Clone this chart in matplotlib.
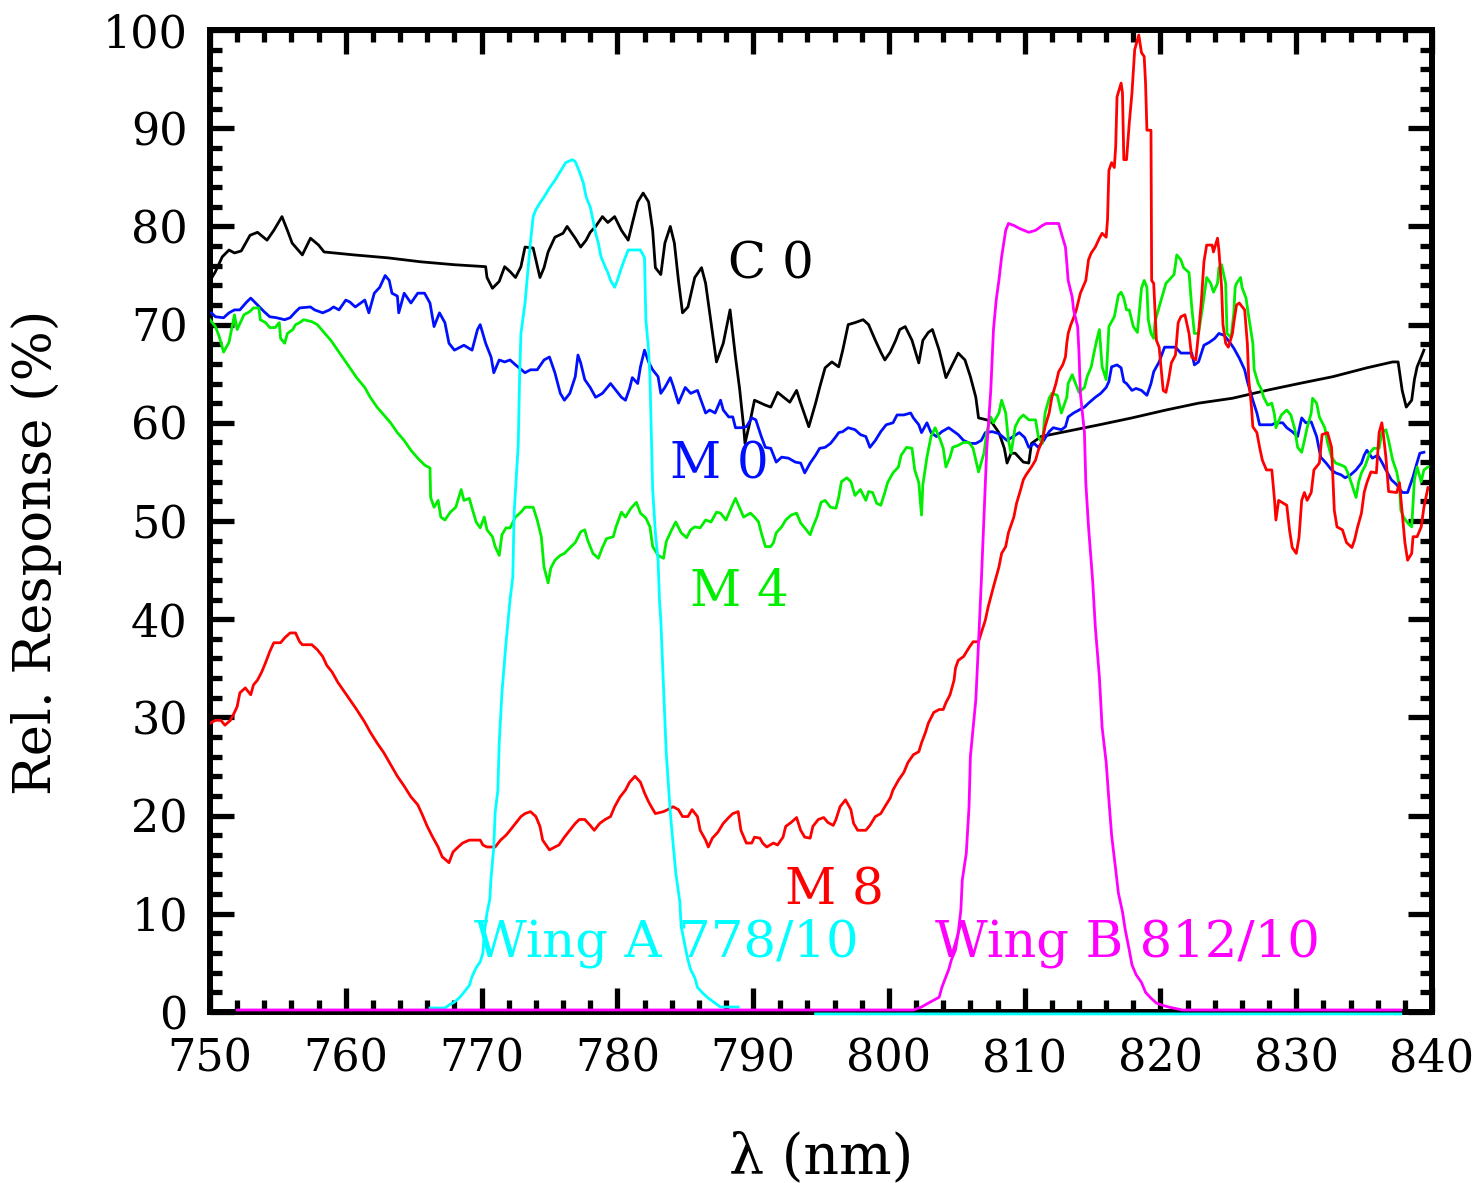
import matplotlib.pyplot as plt
import numpy as np
from matplotlib.ticker import MultipleLocator

# ---- data (wavelength nm, relative response %) ----
wl_c0 = [750.1, 750.4, 750.9, 751.4, 751.8, 752.3, 752.95, 753.5, 754.2, 754.7, 755.3, 755.7,
         756.05, 756.8, 757.4, 758.0, 758.4, 760.6, 763.1, 765.5, 768.0, 770.3, 770.4, 770.8,
         771.3, 771.7, 772.1, 772.5, 772.9, 773.2, 773.8, 774.0, 774.3, 774.6, 774.9, 775.4,
         776.0, 776.3, 776.9, 777.3, 777.7, 778.0, 778.4, 778.9, 779.3, 779.8, 780.3, 780.8,
         781.1, 781.5, 781.9, 782.3, 782.6, 782.8, 783.2, 783.5, 783.9, 784.2, 784.5, 784.8,
         785.2, 785.7, 786.2, 786.5, 786.8, 787.3, 787.8, 788.3, 788.7, 789.0, 789.3, 789.4,
         789.8, 790.1, 790.9, 791.3, 791.8, 792.7, 793.2, 793.5, 794.1, 794.6, 794.9, 795.3,
         795.8, 796.3, 796.6, 797.0, 797.5, 798.1, 798.5, 799.0, 799.4, 799.7, 800.1, 800.5,
         800.8, 801.2, 801.7, 802.2, 802.5, 802.9, 803.2, 803.7, 804.2, 804.6, 805.1, 805.6,
         806.0, 806.4, 806.6, 807.2, 807.6, 808.1, 808.5, 808.7, 809.0, 809.3, 809.9, 810.3,
         810.5, 810.8, 811.2, 813.0, 815.5, 817.9, 820.4, 822.8, 825.3, 827.8, 830.2, 832.7,
         835.2, 837.1, 837.5, 837.8, 838.1, 838.5, 838.7, 838.9, 839.2, 839.4]
rr_c0 = [74.7, 75.4, 76.9, 77.6, 77.3, 77.5, 79.1, 79.4, 78.6, 79.6, 81.0, 79.6,
         78.3, 77.1, 78.8, 78.1, 77.4, 77.1, 76.8, 76.4, 76.1, 75.9, 74.8, 73.7,
         74.4, 75.9, 75.4, 74.8, 75.9, 77.9, 77.8, 76.6, 74.8, 75.8, 77.4, 78.9,
         79.3, 80.0, 78.8, 77.9, 78.6, 79.4, 80.0, 81.0, 80.4, 81.0, 79.6, 78.6,
         80.3, 82.5, 83.4, 82.5, 79.6, 75.8, 75.1, 78.3, 80.0, 78.3, 74.5, 71.2,
         71.8, 74.8, 75.8, 74.2, 71.2, 66.2, 68.1, 71.5, 66.7, 63.5, 59.6, 57.9,
         60.3, 62.3, 61.8, 61.6, 63.1, 62.1, 63.3, 62.0, 59.6, 62.0, 63.6, 65.6,
         66.2, 65.7, 67.4, 70.0, 70.2, 70.5, 70.0, 68.4, 67.2, 66.4, 67.2, 68.4,
         69.5, 69.8, 68.4, 66.1, 68.4, 69.2, 69.5, 67.4, 64.6, 65.7, 67.1, 66.4,
         64.7, 62.6, 60.5, 60.3, 60.0, 59.0, 57.4, 55.9, 56.9, 56.9, 56.0, 55.9,
         57.9, 58.2, 58.6, 59.1, 59.8, 60.5, 61.3, 62.0, 62.5, 63.3, 64.0, 64.7,
         65.6, 66.2, 66.2, 63.3, 61.6, 62.3, 64.4, 65.7, 66.7, 67.4]

wl_m0 = [750.1, 750.4, 751.0, 751.4, 751.8, 752.2, 752.7, 753.0, 753.5, 754.0, 754.4, 754.9,
         755.5, 755.9, 756.3, 756.6, 757.4, 757.7, 758.3, 758.8, 759.1, 759.5, 760.0, 760.3,
         760.7, 761.4, 761.7, 762.1, 762.5, 762.9, 763.2, 763.4, 763.8, 763.9, 764.3, 764.8,
         765.3, 765.8, 766.2, 766.5, 766.9, 767.3, 767.6, 768.0, 768.7, 769.3, 769.7, 769.9,
         770.3, 770.7, 770.9, 771.3, 771.7, 772.1, 772.5, 773.2, 773.6, 774.1, 774.6, 775.0,
         775.4, 775.8, 776.1, 776.5, 776.9, 777.1, 777.3, 777.6, 778.0, 778.4, 778.9, 779.5,
         780.3, 780.6, 780.9, 781.1, 781.5, 781.7, 782.0, 782.3, 782.6, 783.0, 783.2, 783.5,
         783.9, 784.1, 784.5, 785.0, 785.4, 785.9, 786.5, 786.8, 787.2, 787.6, 787.8, 788.2,
         788.5, 788.7, 789.1, 789.5, 789.9, 790.2, 790.6, 790.9, 791.3, 791.7, 792.1, 792.6,
         793.1, 793.5, 793.8, 794.2, 794.6, 794.9, 795.3, 795.7, 796.1, 796.3, 796.6, 797.0,
         797.5, 797.9, 798.3, 798.6, 799.0, 799.4, 799.8, 800.3, 800.6, 801.1, 801.6, 801.8,
         802.2, 802.4, 802.8, 803.1, 803.5, 803.9, 804.4, 804.8, 805.1, 805.5, 806.0, 806.4,
         806.8, 807.1, 807.6, 808.1, 808.7, 809.6, 810.0, 810.3, 810.7, 811.0, 811.4, 811.8,
         812.1, 812.7, 813.0, 813.2, 813.6, 814.0, 814.4, 814.7, 815.2, 815.6, 816.0, 816.2,
         816.4, 816.8, 817.1, 817.3, 817.5, 817.9, 818.2, 818.6, 819.0, 819.3, 819.5, 819.9,
         820.3, 820.6, 821.1, 821.5, 822.3, 822.5, 822.8, 823.2, 823.6, 824.0, 824.3, 824.7,
         825.1, 825.4, 825.8, 826.2, 826.4, 826.8, 827.1, 827.3, 827.8, 828.2, 828.5, 829.0,
         829.3, 829.7, 830.1, 830.4, 830.7, 831.1, 831.5, 831.8, 832.2, 832.6, 832.9, 833.3,
         833.6, 834.0, 834.4, 834.8, 835.0, 835.2, 835.6, 836.0, 836.3, 836.6, 837.0, 837.4,
         837.8, 838.2, 838.6, 838.8, 839.1, 839.4]
rr_m0 = [71.2, 70.8, 70.7, 71.2, 71.5, 71.5, 72.3, 72.7, 72.0, 71.3, 70.8, 70.7,
         70.5, 70.7, 71.3, 71.7, 71.8, 71.5, 71.2, 71.5, 71.8, 71.5, 72.5, 72.3,
         71.8, 72.5, 71.2, 73.2, 73.8, 75.0, 74.5, 73.2, 72.9, 71.2, 73.2, 72.2,
         73.2, 73.2, 72.2, 69.8, 71.2, 70.2, 68.1, 67.4, 67.9, 67.4, 69.5, 70.0,
         68.1, 66.7, 65.1, 66.4, 66.2, 66.4, 65.9, 65.1, 65.4, 65.4, 66.4, 66.7,
         65.1, 63.0, 62.3, 63.0, 64.7, 66.9, 66.1, 64.4, 63.6, 62.6, 63.0, 64.0,
         62.6, 62.3, 63.5, 64.6, 64.0, 65.7, 67.4, 66.2, 65.4, 64.7, 63.0, 63.6,
         64.6, 63.8, 62.0, 63.6, 63.0, 63.3, 61.0, 61.3, 61.0, 62.3, 61.3, 60.6,
         60.6, 59.5, 59.5, 59.6, 60.5, 60.3, 58.6, 57.5, 57.4, 56.0, 56.5, 56.4,
         56.0, 55.9, 54.9, 55.9, 56.7, 57.4, 57.5, 57.9, 58.6, 59.0, 59.1, 59.5,
         59.3, 58.8, 58.6, 57.5, 58.2, 59.1, 59.8, 60.0, 60.8, 60.8, 61.0, 60.5,
         59.8, 59.0, 60.0, 59.0, 58.6, 59.1, 59.5, 59.1, 58.8, 58.2, 57.9, 57.9,
         58.2, 59.0, 59.1, 58.9, 58.2, 59.0, 58.5, 57.5, 57.9, 57.5, 58.2, 59.1,
         59.5, 59.3, 59.6, 60.6, 61.0, 61.3, 61.6, 62.0, 62.6, 63.0, 63.6, 64.2,
         65.7, 65.9, 65.6, 64.2, 64.0, 63.3, 63.5, 63.3, 62.8, 64.0, 65.2, 66.2,
         67.7, 67.7, 67.7, 67.1, 67.1, 65.9, 66.2, 67.9, 68.2, 68.6, 69.1, 68.9,
         68.2, 67.6, 66.6, 65.4, 64.2, 62.3, 61.0, 59.8, 59.8, 59.8, 60.0, 60.0,
         59.5, 59.1, 58.6, 60.5, 60.0, 60.1, 58.6, 56.5, 55.9, 55.2, 54.9, 54.7,
         54.4, 54.7, 55.2, 55.9, 56.7, 57.2, 56.4, 56.7, 56.0, 55.2, 54.2, 53.7,
         52.9, 52.9, 54.5, 55.5, 56.9, 57.0]

wl_m4 = [750.0, 750.4, 750.7, 751.0, 751.4, 751.8, 752.0, 752.5, 752.9, 753.2, 753.6, 753.7,
         754.1, 754.4, 754.8, 755.1, 755.2, 755.5, 755.7, 756.1, 756.3, 756.6, 756.9, 757.5,
         757.9, 758.4, 758.9, 759.4, 759.9, 760.3, 760.8, 761.4, 761.8, 762.3, 762.8, 763.3,
         763.8, 764.3, 764.8, 765.3, 765.8, 766.2, 766.25, 766.5, 766.8, 767.0, 767.3, 767.7,
         768.1, 768.5, 768.7, 769.1, 769.3, 769.6, 769.9, 770.2, 770.4, 770.8, 771.0, 771.3,
         771.5, 771.8, 772.1, 772.5, 772.9, 773.2, 773.8, 774.1, 774.4, 774.6, 774.9, 775.1,
         775.4, 775.8, 776.1, 776.6, 776.9, 777.3, 777.6, 777.8, 778.2, 778.6, 778.9, 779.2,
         779.7, 779.9, 780.3, 780.6, 781.0, 781.4, 781.7, 782.1, 782.4, 782.6, 783.0, 783.4,
         783.6, 784.0, 784.3, 784.7, 785.1, 785.4, 785.7, 786.1, 786.5, 786.9, 787.3, 787.6,
         788.0, 788.4, 788.7, 789.3, 789.8, 790.1, 790.4, 790.6, 790.9, 791.3, 791.5, 791.7,
         792.1, 792.4, 792.8, 793.2, 793.5, 793.8, 794.2, 794.4, 794.7, 795.0, 795.3, 795.7,
         796.1, 796.3, 796.5, 796.9, 797.2, 797.5, 797.9, 798.3, 798.5, 798.8, 799.1, 799.4,
         799.7, 799.9, 800.3, 800.7, 800.9, 801.3, 801.7, 801.9, 802.2, 802.4, 802.5, 802.8,
         803.1, 803.4, 803.8, 804.0, 804.2, 804.5, 804.7, 805.1, 805.5, 805.9, 806.2, 806.6,
         807.0, 807.2, 807.5, 807.7, 808.1, 808.3, 808.6, 808.8, 809.0, 809.3, 809.6, 809.9,
         810.3, 810.8, 811.0, 811.3, 811.5, 811.8, 812.0, 812.4, 812.7, 813.1, 813.2, 813.5,
         813.8, 814.0, 814.4, 814.6, 814.9, 815.1, 815.3, 815.5, 815.7, 816.0, 816.2, 816.6,
         816.9, 817.1, 817.3, 817.5, 817.7, 818.0, 818.3, 818.5, 818.6, 818.8, 819.0, 819.1,
         819.3, 819.5, 819.6, 819.9, 820.4, 820.6, 821.0, 821.2, 821.5, 821.7, 822.1, 822.3,
         822.5, 822.8, 822.9, 823.1, 823.4, 823.7, 823.9, 824.2, 824.3, 824.5, 824.8, 824.9,
         825.2, 825.4, 825.5, 825.6, 825.9, 826.0, 826.3, 826.5, 826.8, 826.9, 827.2, 827.4,
         827.6, 827.9, 828.2, 828.4, 828.5, 828.9, 829.3, 829.6, 829.9, 830.1, 830.4, 830.6,
         830.8, 831.1, 831.2, 831.5, 831.7, 832.1, 832.3, 832.6, 832.9, 833.3, 833.6, 833.8,
         834.1, 834.4, 834.6, 834.8, 835.1, 835.4, 835.7, 836.1, 836.3, 836.6, 836.8, 837.1,
         837.4, 837.6, 837.7, 837.9, 838.2, 838.5, 838.6, 838.7, 838.9, 839.2, 839.4, 839.7]
rr_m4 = [70.5, 69.8, 68.7, 67.2, 68.2, 71.0, 69.5, 71.0, 71.3, 71.7, 71.7, 70.5,
         70.2, 69.7, 69.7, 70.2, 68.6, 68.1, 69.1, 69.5, 70.0, 70.2, 70.5, 70.3,
         70.0, 69.2, 68.4, 67.4, 66.4, 65.6, 64.6, 63.6, 62.6, 61.6, 60.8, 60.0,
         59.0, 58.2, 57.2, 56.4, 55.7, 55.4, 52.4, 51.4, 52.1, 50.4, 50.1, 50.9,
         51.4, 53.2, 52.1, 52.3, 51.3, 49.9, 49.3, 50.4, 49.1, 48.4, 47.4, 46.5,
         48.6, 49.3, 49.3, 50.4, 50.9, 51.4, 51.4, 50.1, 48.4, 45.3, 43.7, 45.2,
         46.0, 46.5, 46.7, 47.4, 47.8, 48.9, 49.1, 48.1, 46.7, 46.2, 47.3, 48.2,
         48.4, 49.4, 50.9, 50.4, 51.3, 51.9, 50.8, 50.3, 49.4, 47.4, 46.5, 46.2,
         47.9, 49.1, 49.9, 48.8, 48.3, 49.1, 49.4, 49.3, 50.1, 49.9, 50.9, 50.8,
         50.1, 51.4, 52.3, 50.4, 50.8, 50.4, 49.9, 48.8, 47.4, 47.4, 47.8, 48.8,
         49.4, 50.1, 50.6, 50.8, 49.8, 49.3, 48.6, 49.4, 50.4, 51.9, 52.1, 51.4,
         51.3, 52.4, 54.0, 54.4, 54.0, 52.6, 53.2, 52.1, 53.0, 52.9, 51.8, 51.6,
         52.9, 53.9, 54.9, 55.5, 56.7, 57.5, 57.4, 55.2, 53.9, 50.6, 53.7, 56.5,
         58.6, 59.5, 58.2, 57.4, 55.5, 56.5, 57.5, 57.7, 58.0, 58.0, 57.4, 55.0,
         56.9, 59.0, 60.6, 60.0, 61.0, 62.3, 61.0, 58.2, 56.9, 59.6, 60.4, 60.8,
         60.3, 60.3, 58.6, 57.9, 61.0, 62.5, 63.0, 62.8, 61.0, 62.6, 64.0, 64.9,
         63.8, 63.1, 63.6, 64.7, 65.7, 67.1, 68.4, 69.5, 65.7, 64.4, 69.8, 70.8,
         73.0, 73.3, 72.7, 71.5, 71.5, 69.8, 69.2, 72.2, 73.7, 74.5, 73.8, 70.5,
         69.1, 68.6, 70.3, 71.8, 74.2, 74.5, 75.1, 77.1, 76.6, 75.8, 75.3, 71.8,
         69.1, 69.1, 70.0, 71.8, 74.8, 74.2, 73.3, 74.2, 75.8, 76.1, 74.2, 69.1,
         68.7, 71.2, 73.8, 74.2, 74.8, 73.8, 72.7, 70.8, 68.1, 65.4, 64.0, 63.5,
         62.6, 61.8, 62.0, 60.8, 59.5, 60.8, 61.3, 60.8, 59.3, 57.5, 57.0, 58.2,
         59.5, 61.0, 62.5, 62.0, 60.6, 59.5, 58.0, 56.5, 55.9, 55.7, 55.5, 54.9,
         53.7, 52.4, 54.0, 54.9, 55.7, 56.9, 57.4, 57.4, 59.0, 59.3, 58.2, 56.2,
         55.0, 53.5, 51.1, 50.4, 49.8, 49.4, 51.8, 54.2, 55.5, 54.0, 55.2, 55.5]

wl_m8 = [750.0, 750.4, 750.8, 751.1, 751.5, 751.8, 752.0, 752.2, 752.6, 753.0, 753.2, 753.5,
         753.8, 754.1, 754.4, 754.7, 755.2, 755.5, 755.9, 756.3, 756.6, 756.8, 757.5, 757.9,
         758.3, 758.6, 759.0, 759.4, 759.9, 760.3, 760.8, 761.4, 761.8, 762.3, 762.8, 763.3,
         763.8, 764.3, 764.8, 765.3, 765.6, 766.0, 766.4, 766.8, 767.1, 767.6, 767.9, 768.2,
         768.6, 769.1, 769.9, 770.1, 770.4, 771.0, 771.4, 771.8, 772.1, 772.5, 772.9, 773.2,
         773.6, 774.0, 774.3, 774.5, 775.0, 775.4, 775.7, 776.1, 776.5, 776.9, 777.2, 777.6,
         778.0, 778.3, 778.7, 779.1, 779.5, 779.8, 780.2, 780.6, 780.9, 781.3, 781.7, 782.0,
         782.3, 782.5, 782.8, 783.4, 783.7, 784.1, 784.5, 784.8, 785.2, 785.5, 785.9, 786.1,
         786.5, 786.7, 787.0, 787.4, 787.8, 788.2, 788.5, 788.9, 789.1, 789.5, 789.9, 790.1,
         790.5, 790.7, 791.0, 791.5, 791.8, 792.2, 792.4, 792.8, 793.2, 793.5, 793.8, 794.2,
         794.4, 794.8, 795.2, 795.5, 795.9, 796.1, 796.4, 796.8, 797.2, 797.4, 797.7, 798.3,
         798.6, 799.0, 799.4, 799.7, 800.1, 800.3, 800.7, 801.1, 801.4, 801.8, 802.2, 802.4,
         802.7, 802.9, 803.3, 803.7, 804.0, 804.2, 804.5, 804.8, 804.9, 805.1, 805.5, 805.9,
         806.2, 806.6, 806.8, 807.1, 807.3, 807.7, 808.1, 808.3, 808.6, 808.8, 809.2, 809.4,
         809.7, 809.9, 810.1, 810.5, 810.8, 811.0, 811.3, 811.5, 811.8, 812.0, 812.3, 812.5,
         812.8, 813.0, 813.1, 813.2, 813.4, 813.6, 813.8, 814.1, 814.5, 814.7, 814.9, 815.2,
         815.5, 815.7, 816.0, 816.1, 816.2, 816.4, 816.6, 816.7, 816.8, 817.1, 817.2, 817.3,
         817.5, 817.7, 817.9, 818.1, 818.4, 818.6, 818.8, 818.9, 819.0, 819.3, 819.35, 819.5,
         819.7, 819.9, 820.2, 820.4, 820.6, 820.8, 821.1, 821.3, 821.5, 821.8, 822.1, 822.3,
         822.6, 822.8, 823.0, 823.2, 823.4, 823.8, 823.9, 824.2, 824.3, 824.5, 824.6, 824.8,
         825.0, 825.3, 825.4, 825.6, 825.8, 826.2, 826.4, 826.5, 826.7, 826.8, 827.1, 827.3,
         827.5, 827.8, 828.2, 828.4, 828.5, 828.7, 829.3, 829.5, 829.7, 830.0, 830.2, 830.4,
         830.6, 830.8, 831.1, 831.3, 831.7, 831.9, 832.3, 832.6, 832.8, 833.0, 833.4, 833.7,
         834.1, 834.3, 834.5, 834.8, 835.0, 835.2, 835.5, 835.9, 836.1, 836.3, 836.4, 836.6,
         836.8, 837.4, 837.6, 837.8, 838.0, 838.2, 838.5, 838.6, 838.9, 839.2, 839.4, 839.7]
rr_m8 = [29.4, 29.7, 29.7, 29.2, 29.7, 30.5, 31.1, 32.5, 33.0, 32.3, 33.3, 33.8,
         34.6, 35.6, 36.7, 37.6, 37.6, 38.1, 38.6, 38.6, 37.7, 37.4, 37.4, 36.9,
         36.2, 35.3, 34.6, 33.6, 32.6, 31.8, 30.8, 29.5, 28.5, 27.4, 26.4, 25.2,
         24.0, 23.0, 21.9, 21.1, 20.2, 18.9, 17.8, 16.8, 15.8, 15.2, 16.3, 16.7,
         17.2, 17.5, 17.5, 17.0, 16.8, 16.8, 17.5, 18.0, 18.5, 19.2, 19.9, 20.2,
         20.4, 19.9, 18.9, 17.5, 16.5, 16.8, 17.0, 17.8, 18.5, 19.2, 19.6, 19.6,
         19.0, 18.5, 19.2, 19.6, 19.9, 20.9, 21.9, 22.6, 23.4, 24.0, 23.4, 22.3,
         21.4, 20.9, 20.2, 20.4, 20.6, 20.9, 20.6, 19.9, 19.9, 20.6, 19.9, 18.5,
         17.5, 16.8, 17.7, 18.3, 19.2, 19.8, 20.2, 20.4, 18.5, 17.2, 17.2, 17.8,
         17.7, 17.2, 16.8, 17.2, 17.0, 17.8, 18.9, 19.3, 19.8, 18.5, 17.8, 17.7,
         18.9, 19.6, 19.8, 19.3, 19.0, 19.6, 20.9, 21.6, 20.6, 19.2, 18.5, 18.5,
         19.0, 19.9, 20.2, 20.9, 21.8, 22.6, 23.6, 24.4, 25.4, 26.2, 26.5, 27.4,
         28.5, 29.4, 30.5, 30.8, 30.8, 31.5, 32.3, 33.8, 35.0, 35.8, 36.2, 37.1,
         37.7, 37.7, 38.6, 39.9, 41.2, 43.3, 45.3, 46.7, 47.4, 48.8, 50.4, 51.8,
         53.2, 54.2, 54.7, 55.5, 56.2, 57.2, 58.2, 59.6, 61.0, 62.6, 64.0, 65.2,
         65.9, 66.7, 68.1, 69.1, 70.0, 70.7, 71.5, 73.2, 74.5, 76.6, 77.3, 77.9,
         78.8, 79.3, 78.9, 80.7, 85.7, 86.5, 86.0, 88.1, 93.2, 94.6, 93.6, 86.8,
         86.8, 90.5, 93.6, 98.0, 99.5, 97.7, 97.3, 94.6, 89.8, 89.8, 74.5, 74.2,
         68.4, 67.7, 63.3, 63.1, 64.4, 66.1, 66.9, 70.2, 70.8, 71.0, 69.1, 66.7,
         66.4, 69.1, 72.2, 76.4, 78.1, 78.1, 77.4, 78.8, 77.6, 73.8, 70.0, 68.1,
         67.7, 69.1, 70.2, 72.0, 72.2, 71.5, 68.0, 64.4, 61.6, 59.6, 59.0, 57.5,
         56.2, 55.2, 55.2, 52.1, 50.1, 52.1, 51.6, 49.1, 47.3, 46.7, 48.3, 52.1,
         52.9, 52.1, 52.9, 55.2, 55.9, 58.8, 59.0, 57.5, 51.1, 49.4, 49.1, 47.8,
         47.3, 48.1, 49.3, 50.8, 52.9, 53.9, 55.0, 54.9, 59.0, 60.0, 59.0, 56.5,
         53.0, 52.9, 53.9, 50.8, 47.8, 46.0, 46.7, 48.4, 48.4, 49.4, 51.4, 53.4]

# filter transmission curves (NaN breaks the cyan trace where it leaves the plot)
wl_wa = [766.2, 767.3, 767.6, 768.0, 768.4, 768.7, 769.1, 769.3, 769.6, 769.9, 770.1, 770.2,
         770.4, 770.6, 770.7, 770.9, 771.0, 771.2, 771.3, 771.5, 771.8, 772.1, 772.3, 772.4,
         772.7, 772.8, 772.9, 773.2, 773.4, 773.6, 773.8, 774.0, 774.3, 774.6, 775.0, 775.4,
         775.8, 776.2, 776.7, 776.9, 777.2, 777.5, 777.7, 778.0, 778.2, 778.4, 778.6, 778.8,
         779.1, 779.3, 779.5, 779.8, 780.0, 780.3, 780.6, 780.8, 781.3, 781.7, 782.0, 782.1,
         782.3, 782.4, 782.5, 782.6, 782.8, 783.0, 783.1, 783.2, 783.4, 783.6, 783.9, 784.1,
         784.3, 784.6, 784.7, 785.0, 785.2, 785.4, 785.7, 785.9, 786.3, 786.7, 787.2, 787.6,
         788.9, 791.7, 794.6, 837.7]
tr_wa = [0.4, 0.4, 0.7, 1.0, 1.5, 2.0, 2.7, 3.6, 4.5, 5.1, 6.0, 8.0,
         10.1, 11.4, 13.7, 16.8, 20.3, 22.6, 27.4, 32.5, 37.6, 42.0, 44.3, 50.9,
         57.7, 64.6, 69.1, 72.2, 75.3, 78.4, 81.0, 81.7, 82.4, 83.0, 83.9, 84.7,
         85.6, 86.5, 86.8, 86.6, 85.6, 84.4, 83.0, 82.0, 80.7, 79.3, 78.3, 76.9,
         75.9, 75.3, 74.5, 73.8, 74.5, 75.8, 76.9, 77.6, 77.6, 77.6, 76.8, 70.5,
         67.4, 64.7, 59.0, 53.2, 48.8, 46.0, 42.0, 39.9, 33.1, 26.4, 20.3, 17.2,
         14.2, 11.2, 8.7, 6.6, 5.3, 4.3, 3.5, 2.5, 1.9, 1.4, 0.9, 0.5,
         0.5, np.nan, -0.2, -0.2]

wl_wb = [752.0, 801.8, 802.4, 802.9, 803.3, 803.7, 803.9, 804.2, 804.4, 804.6, 804.9, 805.1,
         805.3, 805.4, 805.7, 805.9, 806.0, 806.4, 806.6, 806.8, 807.0, 807.2, 807.5, 807.7,
         807.9, 808.1, 808.3, 808.6, 808.8, 809.2, 809.6, 810.3, 810.8, 811.3, 811.6, 812.5,
         812.7, 813.0, 813.1, 813.2, 813.5, 813.6, 813.9, 814.0, 814.1, 814.4, 814.5, 814.7,
         815.0, 815.2, 815.5, 815.7, 816.0, 816.2, 816.4, 816.7, 816.9, 817.2, 817.4, 817.7,
         817.9, 818.2, 818.6, 818.9, 819.3, 819.7, 820.1, 820.6, 821.6, 837.7]
tr_wb = [0.2, 0.2, 0.5, 0.9, 1.2, 1.5, 2.5, 3.6, 4.3, 5.3, 6.3, 8.0,
         10.4, 13.4, 16.2, 20.9, 26.0, 31.8, 37.6, 43.7, 50.4, 57.2, 63.3, 69.5,
         72.5, 74.5, 76.9, 79.6, 80.3, 80.1, 79.8, 79.4, 79.6, 80.1, 80.3, 80.3,
         79.3, 77.9, 76.3, 74.5, 72.8, 71.5, 69.8, 67.1, 63.0, 59.0, 53.9, 49.4,
         44.0, 39.2, 34.1, 29.0, 25.4, 21.6, 18.0, 14.5, 12.1, 10.2, 8.4, 6.3,
         4.8, 3.8, 3.0, 2.0, 1.4, 0.9, 0.7, 0.5, 0.2, 0.2]

plt.rcParams['font.family'] = 'DejaVu Serif'

fig = plt.figure(figsize=(14.82, 11.83), dpi=100)
ax = fig.add_axes([0.1417, 0.1446, 0.8246, 0.83])

lw = 2.0
ax.plot(wl_c0, rr_c0, color='black', lw=lw, zorder=3)
ax.plot(wl_m0, rr_m0, color='#0010ff', lw=lw, zorder=3)
ax.plot(wl_m4, rr_m4, color='#00ee00', lw=lw, zorder=3)
ax.plot(wl_m8, rr_m8, color='red', lw=lw, zorder=3)
ax.plot(wl_wa, tr_wa, color='cyan', lw=lw, zorder=3, clip_on=False)
ax.plot(wl_wb, tr_wb, color='magenta', lw=lw, zorder=3, clip_on=False)

ax.set_xlim(750, 840)
ax.set_ylim(0, 100)
ax.xaxis.set_major_locator(MultipleLocator(10))
ax.xaxis.set_minor_locator(MultipleLocator(2))
ax.yaxis.set_major_locator(MultipleLocator(10))
ax.yaxis.set_minor_locator(MultipleLocator(2))
ax.tick_params(which='both', direction='in', top=True, right=True, width=3.8)
ax.tick_params(which='major', length=17, labelsize=32)
ax.tick_params(axis='x', which='major', pad=18)
ax.tick_params(axis='y', which='major', pad=16)
ax.tick_params(which='minor', length=8.6)
for sp in ax.spines.values():
    sp.set_linewidth(4.3)

ax.set_xlabel('λ (nm)', fontsize=40, labelpad=36)
ax.set_ylabel('Rel. Response (%)', fontsize=38)
ax.yaxis.set_label_coords(-0.121, 0.468)

lab = dict(fontsize=36, ha='center', va='center')
ax.text(791.3, 76.1, 'C 0', color='black', **lab)
ax.text(787.5, 55.7, 'M 0', color='#0010ff', **lab)
ax.text(789.0, 42.7, 'M 4', color='#00ee00', **lab)
ax.text(796.0, 12.3, 'M 8', color='red', **lab)
ax.text(783.6, 7.0, 'Wing A 778/10', color='cyan', fontsize=37, ha='center', va='center')
ax.text(817.6, 7.0, 'Wing B 812/10', color='magenta', fontsize=37, ha='center', va='center')

fig.savefig('out.png', dpi=100)
